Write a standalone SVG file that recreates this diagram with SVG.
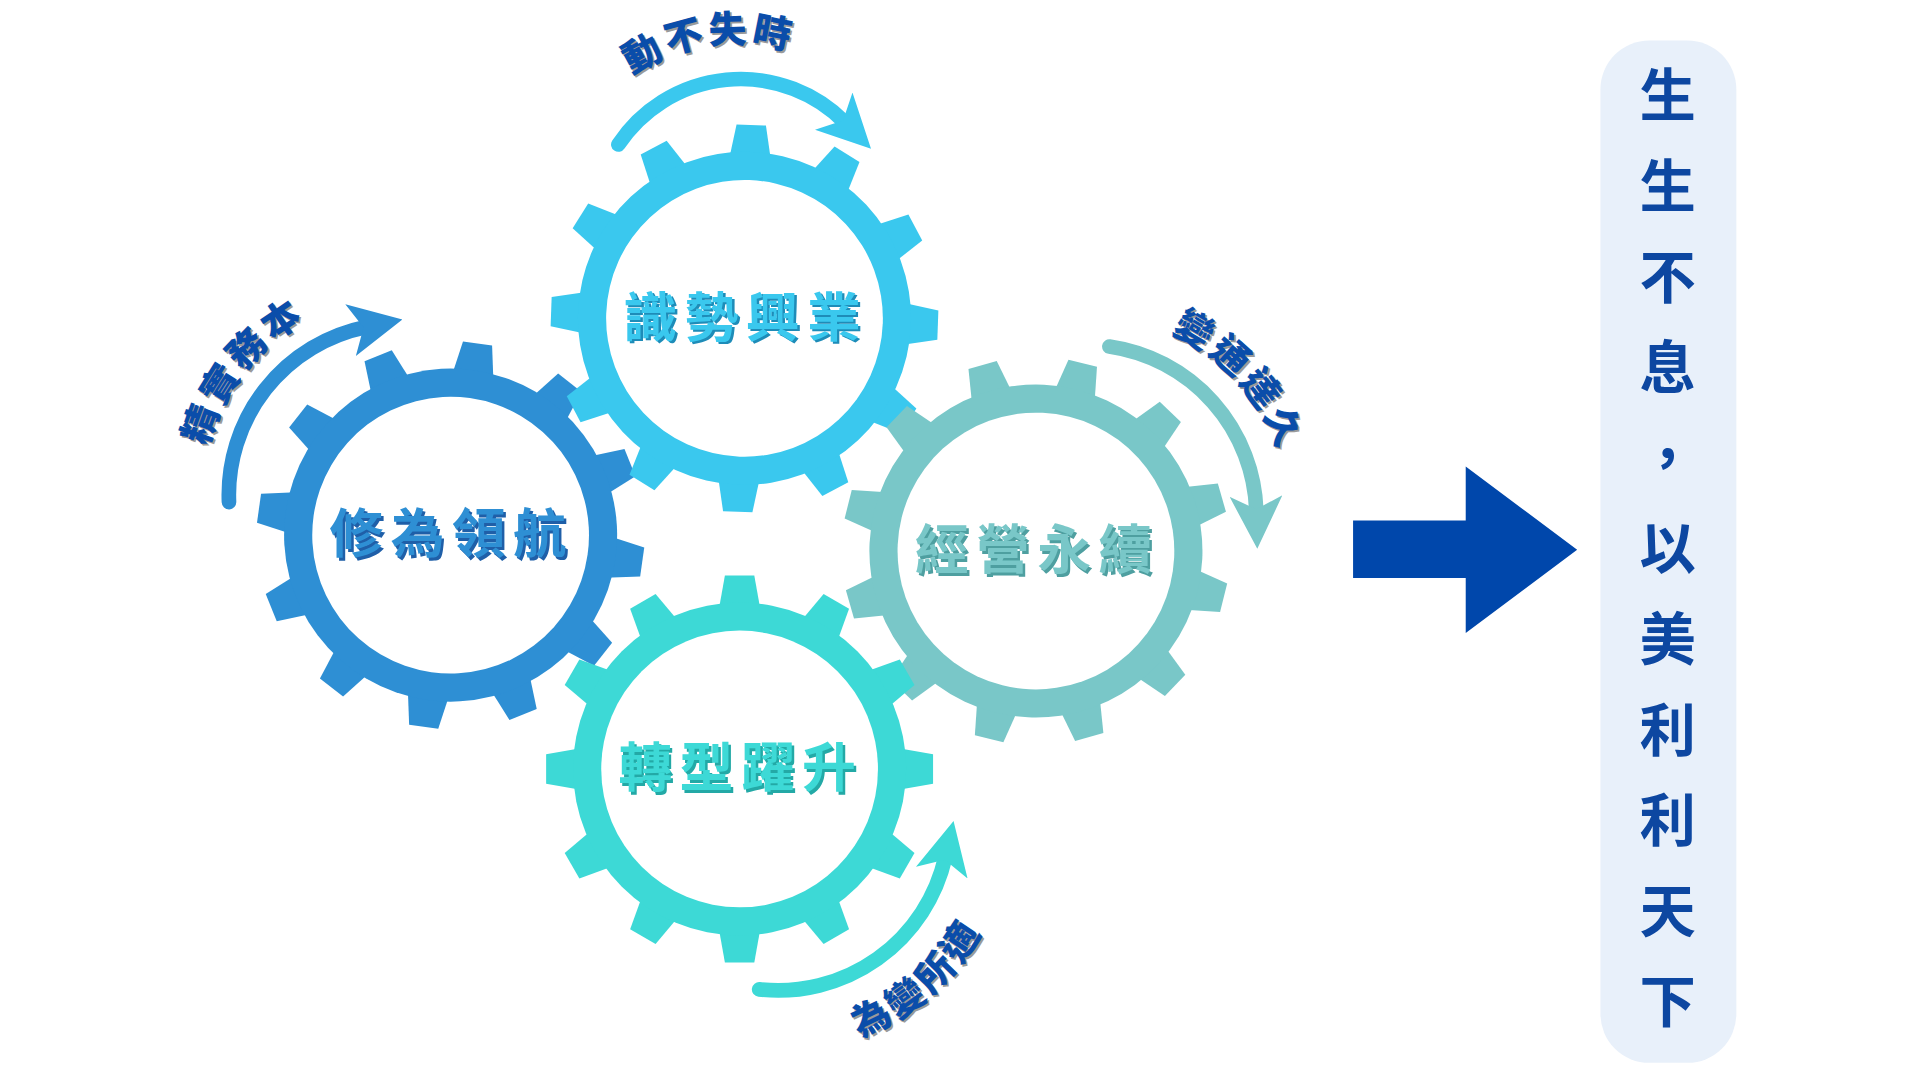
<svg xmlns="http://www.w3.org/2000/svg" xmlns:xlink="http://www.w3.org/1999/xlink" width="1920" height="1080" viewBox="0 0 1920 1080">
<style>
.gt{font-family:"Noto Sans CJK TC","Noto Sans CJK SC",sans-serif;font-weight:bold;font-size:44px;letter-spacing:6px;text-anchor:middle}
.lb{font-family:"Noto Sans CJK TC","Noto Sans CJK SC",sans-serif;font-weight:900;font-size:31px;fill:#0A4DAA;letter-spacing:3px}
.sh{fill:#9A9A9A}
.vt{font-family:"Noto Sans CJK TC","Noto Sans CJK SC",sans-serif;font-weight:bold;font-size:46px;fill:#0D47A1;text-anchor:middle}
.arc{fill:none;stroke-width:12;stroke-linecap:round}
</style>
<defs>
<path id="tooth" d="M-17,-130 L-12,-158 L12,-158 L17,-130 Z"/>
<g id="teeth">
<use xlink:href="#tooth"/><use xlink:href="#tooth" transform="rotate(30)"/><use xlink:href="#tooth" transform="rotate(60)"/><use xlink:href="#tooth" transform="rotate(90)"/><use xlink:href="#tooth" transform="rotate(120)"/><use xlink:href="#tooth" transform="rotate(150)"/><use xlink:href="#tooth" transform="rotate(180)"/><use xlink:href="#tooth" transform="rotate(210)"/><use xlink:href="#tooth" transform="rotate(240)"/><use xlink:href="#tooth" transform="rotate(270)"/><use xlink:href="#tooth" transform="rotate(300)"/><use xlink:href="#tooth" transform="rotate(330)"/>
<circle r="136"/>
</g>
<marker id="hb" viewBox="0 0 10 10" refX="3" refY="5" markerWidth="3.6" markerHeight="3.6" orient="auto"><path d="M0,0 L10,5 L0,10 L2.5,5 Z" fill="#2E8FD4"/></marker>
<marker id="hc" viewBox="0 0 10 10" refX="3" refY="5" markerWidth="3.6" markerHeight="3.6" orient="auto"><path d="M0,0 L10,5 L0,10 L2.5,5 Z" fill="#3AC8EE"/></marker>
<marker id="hg" viewBox="0 0 10 10" refX="3" refY="5" markerWidth="3.6" markerHeight="3.6" orient="auto"><path d="M0,0 L10,5 L0,10 L2.5,5 Z" fill="#79C7C8"/></marker>
<marker id="ht" viewBox="0 0 10 10" refX="3" refY="5" markerWidth="3.6" markerHeight="3.6" orient="auto"><path d="M0,0 L10,5 L0,10 L2.5,5 Z" fill="#3DD9D6"/></marker>
<path id="t1" d="M166.6,381.5 A162,162 0 0 1 266.3,253.8"/>
<path id="t2" d="M496.4,78.4 A148,148 0 0 1 670.4,52.3"/>
<path id="t3" d="M952.5,270.1 A165,165 0 0 1 1045.7,373.8"/>
<path id="t4" d="M668.5,856.2 A190,190 0 0 0 816.2,727.7"/>
</defs>
<rect width="1920" height="1080" fill="#FFFFFF"/>
<g transform="scale(1.2245)">
<g id="gear-xiuwei" transform="translate(368,437) rotate(8)"><use xlink:href="#teeth" fill="#2E8FD4"/><circle r="113" fill="#FFFFFF"/></g>
<g id="gear-shishi" transform="translate(608,260) rotate(2)"><use xlink:href="#teeth" fill="#3AC8EE"/><circle r="113" fill="#FFFFFF"/></g>
<g id="gear-jingying" transform="translate(846,450) rotate(14)"><use xlink:href="#teeth" fill="#79C7C8"/><circle r="113" fill="#FFFFFF"/></g>
<g id="gear-zhuanxing" transform="translate(604,628) rotate(0)"><use xlink:href="#teeth" fill="#3DD9D6"/><circle r="113" fill="#FFFFFF"/></g>
<g id="gear-texts">
<text class="gt" x="371" y="454" fill="#1F5FA8">修為領航</text><text class="gt" x="369" y="452" fill="#2E8FD4">修為領航</text>
<text class="gt" x="611" y="277" fill="#1E8CB8">識勢興業</text><text class="gt" x="609" y="275" fill="#3AC8EE">識勢興業</text>
<text class="gt" x="849" y="467" fill="#4E9FA0">經營永續</text><text class="gt" x="847" y="465" fill="#79C7C8">經營永續</text>
<text class="gt" x="607" y="645" fill="#23A9A6">轉型躍升</text><text class="gt" x="605" y="643" fill="#3DD9D6">轉型躍升</text>
</g>
<g id="connectors">
<path class="arc" stroke="#2E8FD4" marker-end="url(#hb)" d="M187,410 A140,140 0 0 1 299,267"/>
<path class="arc" stroke="#3AC8EE" marker-end="url(#hc)" d="M505,118 A120,120 0 0 1 690,100"/>
<path class="arc" stroke="#79C7C8" marker-end="url(#hg)" d="M906,283 A140,140 0 0 1 1026,418"/>
<path class="arc" stroke="#3DD9D6" marker-end="url(#ht)" d="M620,808 A140,140 0 0 0 772,700"/>
<polygon fill="#0047AB" points="1105,425 1197,425 1197,381 1288,449 1197,517 1197,472 1105,472"/>
</g>
<g id="arc-labels">
<g transform="translate(1.5,1.5)" class="sh">
<text class="lb sh"><textPath xlink:href="#t1" startOffset="50%" text-anchor="middle">精實務本</textPath></text>
<text class="lb sh"><textPath xlink:href="#t2" startOffset="50%" text-anchor="middle">動不失時</textPath></text>
<text class="lb sh"><textPath xlink:href="#t3" startOffset="50%" text-anchor="middle">變通達久</textPath></text>
<text class="lb sh"><textPath xlink:href="#t4" startOffset="50%" text-anchor="middle">為變所適</textPath></text>
</g>
<text class="lb"><textPath xlink:href="#t1" startOffset="50%" text-anchor="middle">精實務本</textPath></text>
<text class="lb"><textPath xlink:href="#t2" startOffset="50%" text-anchor="middle">動不失時</textPath></text>
<text class="lb"><textPath xlink:href="#t3" startOffset="50%" text-anchor="middle">變通達久</textPath></text>
<text class="lb"><textPath xlink:href="#t4" startOffset="50%" text-anchor="middle">為變所適</textPath></text>
</g>
<g id="panel">
<rect x="1307" y="33" width="111" height="835" rx="40" fill="#E8F0FA"/>
<text class="vt" x="1362" y="95">生</text>
<text class="vt" x="1362" y="169">生</text>
<text class="vt" x="1362" y="243">不</text>
<text class="vt" x="1362" y="317">息</text>
<text class="vt" x="1362" y="391">，</text>
<text class="vt" x="1362" y="465">以</text>
<text class="vt" x="1362" y="539">美</text>
<text class="vt" x="1362" y="613">利</text>
<text class="vt" x="1362" y="687">利</text>
<text class="vt" x="1362" y="761">天</text>
<text class="vt" x="1362" y="835">下</text>
</g>
</g>
</svg>
